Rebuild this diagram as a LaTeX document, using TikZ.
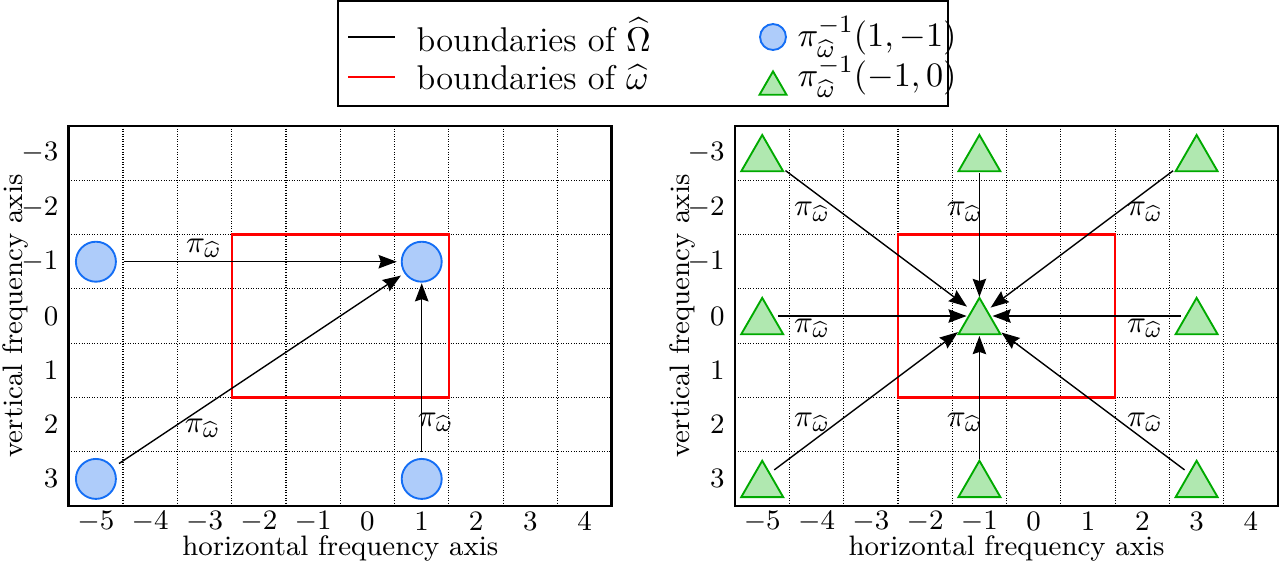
\documentclass[tikz,border=0pt]{standalone}
\usepackage{amsmath}
\usetikzlibrary{arrows.meta,shapes.geometric}
\definecolor{cfill}{RGB}{174,204,250}
\definecolor{cdraw}{RGB}{20,110,245}
\definecolor{tfill}{RGB}{176,232,176}
\definecolor{tdraw}{RGB}{0,170,0}
\definecolor{bred}{RGB}{255,0,0}
\tikzset{
  frame/.style={draw=black, line width=0.85pt},
  gridln/.style={black, line width=0.36pt, dash pattern=on 0.32pt off 0.5pt},
  redbox/.style={draw=bred, line width=0.7pt},
  circmark/.style={circle, draw=cdraw, fill=cfill, line width=0.6pt, minimum size=12.8pt, inner sep=0pt},
  trimark/.style={regular polygon, regular polygon sides=3, draw=tdraw, fill=tfill, line width=0.6pt, minimum size=15.5pt, inner sep=0pt, yshift=-1.94pt},
  legcirc/.style={circmark, minimum size=8.3pt},
  legtri/.style={trimark, minimum size=10pt, yshift=-1.25pt},
  arr/.style={-{Stealth[length=5.8pt,width=4.3pt,inset=0.7pt]}, line width=0.45pt, black},
  pilbl/.style={font=\fontsize{10}{12}\selectfont, inner sep=0pt},
  ticklbl/.style={font=\fontsize{9}{11}\selectfont, inner sep=0pt},
  axlab/.style={font=\fontsize{9}{11}\selectfont, inner sep=0pt},
  legtxt/.style={font=\fontsize{11}{13}\selectfont, inner sep=0pt, anchor=west},
}
\newcommand{\piw}{$\pi_{\widehat{\omega}}$}
\begin{document}
\begin{tikzpicture}[x=0.32pt,y=-0.32pt]
\useasboundingbox (0,0) rectangle (1285,566);
% ---------- legend ----------
\draw[line width=0.64pt] (338,1) rectangle (948,106);
\coordinate (lgA1) at (348,37); \coordinate (lgA2) at (395,37);
\coordinate (lgB1) at (348,77); \coordinate (lgB2) at (395,77);
\draw[black, line width=0.55pt] (lgA1) -- (lgA2);
\draw[bred, line width=0.55pt] (lgB1) -- (lgB2);
\node[legtxt] (lg1) at (416,35) {boundaries of $\widehat{\Omega}$};
\node[legtxt] (lg2) at (416,77) {boundaries of $\widehat{\omega}$};
\node[legcirc] (lgc) at (773,37) {};
\node[legtri] (lgt) at (773,77) {};
\node[legtxt] (lg3) at (797,37) {$\pi_{\widehat{\omega}}^{-1}(1,-1)$};
\node[legtxt] (lg4) at (797,77) {$\pi_{\widehat{\omega}}^{-1}(-1,0)$};

% ---------- left panel ----------
\begin{scope}[shift={(367.4,316)}, x=17.376pt, y=-17.376pt]
  \foreach \g in {-4.5,-3.5,...,3.5} \draw[gridln] (\g,-3.5) -- (\g,3.5);
  \foreach \g in {-2.5,-1.5,...,2.5} \draw[gridln] (-5.5,\g) -- (4.5,\g);
  \draw[redbox] (-2.5,-1.5) rectangle (1.5,1.5);
  \draw[frame] (-5.5,-3.5) rectangle (4.5,3.5);
  \foreach \t in {-5,...,4} \node[ticklbl, name=lx\t] at (\t,3.78) {$\t$};
  \foreach \t in {-3,...,3} \node[ticklbl, anchor=east, name=ly\t] at (-5.68,\t) {$\t$};
  \node[axlab] (lxlab) at (-0.5,4.29) {horizontal frequency axis};
  \node[axlab, rotate=90] (lylab) at (-6.49,0) {vertical frequency axis};
  \node[circmark] (c1) at (-5,-1) {};
  \node[circmark] (c2) at (1,-1) {};
  \node[circmark] (c3) at (-5,3) {};
  \node[circmark] (c4) at (1,3) {};
  \draw[arr, shorten <=2.2pt, shorten >=1.3pt] (c1) -- (c2);
  \draw[arr, shorten <=2.2pt, shorten >=1.3pt] (c3) -- (c2);
  \draw[arr, shorten <=1.9pt, shorten >=0.2pt] (c4) -- (c2);
  \node[pilbl] (p1) at (-3.01,-1.25) {\piw};
  \node[pilbl] (p2) at (-3.03,2.06) {\piw};
  \node[pilbl] (p3) at (1.26,1.95) {\piw};
\end{scope}

% ---------- right panel ----------
\begin{scope}[shift={(1033.7,316)}, x=17.376pt, y=-17.376pt]
  \foreach \g in {-4.5,-3.5,...,3.5} \draw[gridln] (\g,-3.5) -- (\g,3.5);
  \foreach \g in {-2.5,-1.5,...,2.5} \draw[gridln] (-5.5,\g) -- (4.5,\g);
  \draw[redbox] (-2.5,-1.5) rectangle (1.5,1.5);
  \draw[frame] (-5.5,-3.5) rectangle (4.5,3.5);
  \foreach \t in {-5,...,4} \node[ticklbl, name=rx\t] at (\t,3.78) {$\t$};
  \foreach \t in {-3,...,3} \node[ticklbl, anchor=east, name=ry\t] at (-5.68,\t) {$\t$};
  \node[axlab] (rxlab) at (-0.5,4.29) {horizontal frequency axis};
  \node[axlab, rotate=90] (rylab) at (-6.46,0) {vertical frequency axis};
  \coordinate (t0) at (-1,0);
  \coordinate (tTL) at (-5,-3);
  \coordinate (tTM) at (-1,-3);
  \coordinate (tTR) at (3,-3);
  \coordinate (tML) at (-5,0);
  \coordinate (tMR) at (3,0);
  \coordinate (tBL) at (-5,3);
  \coordinate (tBM) at (-1,3);
  \coordinate (tBR) at (3,3);
  \foreach \p in {t0,tTL,tTM,tTR,tML,tMR,tBL,tBM,tBR}
    \node[trimark, name=m\p] at (\p) {};
  \draw[arr, shorten <=9.3pt, shorten >=5.0pt] (tTL) -- (t0);
  \draw[arr, shorten <=6.4pt, shorten >=6.1pt] (tTM) -- (t0);
  \draw[arr, shorten <=9.4pt, shorten >=4.5pt] (tTR) -- (t0);
  \draw[arr, shorten <=5.1pt, shorten >=4.1pt] (tML) -- (t0);
  \draw[arr, shorten <=5.0pt, shorten >=4.2pt] (tMR) -- (t0);
  \draw[arr, shorten <=4.8pt, shorten >=8.6pt] (tBL) -- (t0);
  \draw[arr, shorten <=6.4pt, shorten >=6.4pt] (tBM) -- (t0);
  \draw[arr, shorten <=4.8pt, shorten >=8.8pt] (tBR) -- (t0);
  \node[pilbl] (q1) at (-4.08,-1.92) {\piw};
  \node[pilbl] (q2) at (-1.27,-1.92) {\piw};
  \node[pilbl] (q3) at (2.05,-1.92) {\piw};
  \node[pilbl] (q4) at (-4.08,0.22) {\piw};
  \node[pilbl] (q5) at (2.05,0.22) {\piw};
  \node[pilbl] (q6) at (-4.08,1.95) {\piw};
  \node[pilbl] (q7) at (-1.27,1.95) {\piw};
  \node[pilbl] (q8) at (2.05,1.95) {\piw};
\end{scope}
\end{tikzpicture}
\end{document}
